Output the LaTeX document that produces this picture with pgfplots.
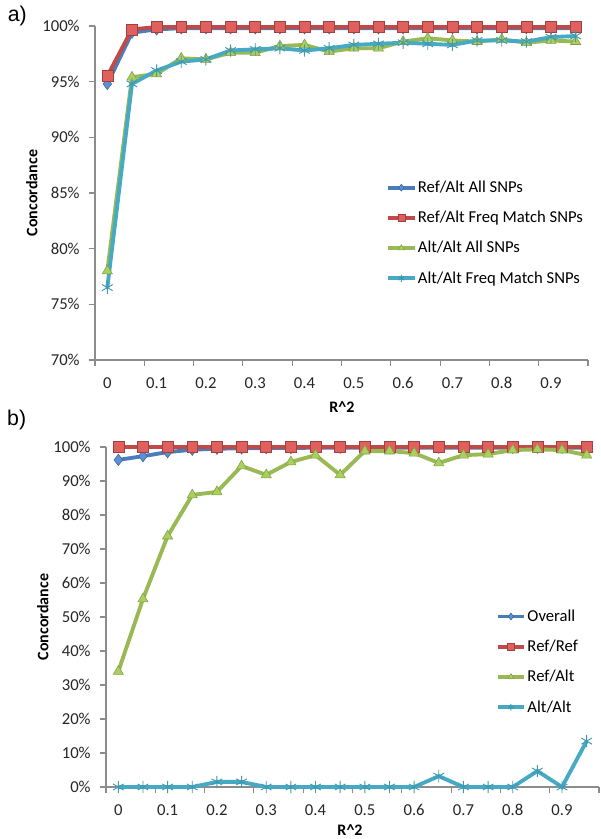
\documentclass[border=0pt]{standalone}
\usepackage{fontspec}
\setmainfont{Carlito}
\newfontfamily\labfont{Liberation Sans}
\usepackage{pgfplots}
\usepackage{pgfplotstable}
\pgfplotsset{compat=1.18}

\definecolor{cBlue}{HTML}{4A7EBB}
\definecolor{cBlueF}{HTML}{5B8FD6}
\definecolor{cRed}{HTML}{BE4B48}
\definecolor{cRedF}{HTML}{E0605D}
\definecolor{cGreen}{HTML}{98B954}
\definecolor{cGreenF}{HTML}{A9D05C}
\definecolor{cCyan}{HTML}{46AAC5}
\definecolor{axgray}{HTML}{8C8C8C}

% panel a: R^2 bins, four series
\pgfplotstableread{
x     refall  reffm  altall  altfm
0     94.8    95.5   78.0    76.5
0.05  99.4    99.7   95.4    94.8
0.10  99.7    99.9   95.7    96.0
0.15  99.8    99.9   97.1    96.8
0.20  99.8    99.9   97.0    97.0
0.25  99.8    99.9   97.6    97.8
0.30  99.8    99.9   97.6    97.9
0.35  99.8    99.9   98.2    98.0
0.40  99.8    99.9   98.3    97.8
0.45  99.8    99.9   97.7    98.0
0.50  99.8    99.9   98.0    98.3
0.55  99.8    99.9   98.0    98.4
0.60  99.8    99.9   98.6    98.5
0.65  99.8    99.9   98.9    98.4
0.70  99.8    99.9   98.7    98.3
0.75  99.8    99.9   98.6    98.7
0.80  99.8    99.9   98.8    98.7
0.85  99.8    99.9   98.5    98.6
0.90  99.8    99.9   98.7    99.0
0.95  99.8    99.9   98.6    99.1
}\tabA

% panel b
\pgfplotstableread{
x     overall  refref  refalt  altalt
0     96.2     100     34.0    0
0.05  97.3     100     55.3    0
0.10  98.5     100     73.8    0
0.15  99.2     100     85.9    0
0.20  99.5     100     86.8    1.5
0.25  99.6     100     94.4    1.5
0.30  99.7     100     91.8    0
0.35  99.7     100     95.6    0
0.40  99.8     100     97.6    0
0.45  99.8     100     91.8    0
0.50  99.8     100     98.8    0
0.55  99.8     100     98.8    0
0.60  99.8     100     98.2    0
0.65  99.8     100     95.3    3.2
0.70  99.8     100     97.6    0
0.75  99.8     100     97.9    0
0.80  99.8     100     99.1    0
0.85  99.8     100     99.3    4.7
0.90  99.8     100     99.1    0
0.95  99.8     100     97.6    13.5
}\tabB

\pgfplotsset{
  xlchart/.style={
    scale only axis, clip=false,
    anchor=south west,
    xmin=-0.025, xmax=0.975,
    axis x line*=bottom, axis y line*=left,
    axis line style={draw=axgray, line width=0.8pt, -},
    xtick={0,0.1,0.2,0.3,0.4,0.5,0.6,0.7,0.8,0.9},
    xticklabels={0,0.1,0.2,0.3,0.4,0.5,0.6,0.7,0.8,0.9},
    major x tick style={draw=none},
    minor xtick={-0.025,0.075,0.175,0.275,0.375,0.475,0.575,0.675,0.775,0.875,0.975},
    minor tick length=4.5pt, major tick length=4.5pt,
    tick align=outside,
    tick style={draw=axgray, line width=0.8pt},
    /pgf/number format/assume math mode=true,
    tick label style={font=\fontsize{12.5}{14}\selectfont, text=black!85},
    xticklabel style={yshift=-5pt},
    yticklabel style={xshift=-3.5pt},
    label style={font=\fontsize{12}{14}\selectfont\bfseries},
    xlabel={R\textasciicircum 2},
    ylabel={Concordance},
    legend cell align=left,
    legend style={draw=none, fill=none, font=\fontsize{12.5}{14}\selectfont,
      row sep=8.5pt, inner sep=0pt, nodes={inner xsep=1pt}},
    legend image code/.code={
      \draw[mark repeat=2,mark phase=2,#1,mark size=2.6pt]
        plot coordinates {(0cm,0cm) (0.35cm,0cm) (0.7cm,0cm)};},
  },
  sblue/.style={cBlue, line width=2.9pt, mark=diamond*, mark size=4.3pt,
    mark options={fill=cBlueF, draw=cBlue!80!black, line width=0.4pt}},
  sred/.style={cRed, line width=2.9pt, mark=square*, mark size=4.1pt,
    mark options={fill=cRedF, draw=cRed!85!black, line width=0.4pt}},
  sgreen/.style={cGreen, line width=2.9pt, mark=triangle*, mark size=4.4pt,
    mark options={fill=cGreenF, draw=cGreen!85!black, line width=0.4pt}},
  scyan/.style={cCyan, line width=2.9pt, mark=asterisk, mark size=4.6pt,
    mark options={draw=cCyan!90!black, line width=0.7pt}},
}

\begin{document}
\begin{tikzpicture}
\useasboundingbox (0,0) rectangle (450pt,629.25pt);

\node[font=\labfont\fontsize{16}{18}\selectfont, anchor=center] at (13pt,617pt) {a)};
\node[font=\labfont\fontsize{16}{18}\selectfont, anchor=center] at (12.5pt,314pt) {b)};

% panel a
\begin{axis}[xlchart,
  at={(71.25pt,359.25pt)}, width=369.75pt, height=250.5pt,
  ymin=70, ymax=100,
  ytick={70,75,80,85,90,95,100},
  yticklabels={70\%,75\%,80\%,85\%,90\%,95\%,100\%},
  xlabel style={at={(axis description cs:0.501,-0.141)}, anchor=center},
  ylabel style={at={(axis description cs:-0.128,0.5)}, anchor=center, rotate=0},
  legend style={at={(axis description cs:0.59,0.545)}, anchor=north west},
]
\addplot[sblue]  table[x=x, y=refall] {\tabA};
\addplot[sred]   table[x=x, y=reffm]  {\tabA};
\addplot[sgreen] table[x=x, y=altall] {\tabA};
\addplot[scyan]  table[x=x, y=altfm]  {\tabA};
\legend{Ref/Alt All SNPs, Ref/Alt Freq Match SNPs, Alt/Alt All SNPs, Alt/Alt Freq Match SNPs}
\end{axis}

% panel b
\begin{axis}[xlchart,
  at={(79.5pt,39pt)}, width=369.75pt, height=255pt,
  ymin=0, ymax=100,
  ytick={0,10,20,30,40,50,60,70,80,90,100},
  yticklabels={0\%,10\%,20\%,30\%,40\%,50\%,60\%,70\%,80\%,90\%,100\%},
  xlabel style={at={(axis description cs:0.495,-0.128)}, anchor=center},
  ylabel style={at={(axis description cs:-0.128,0.5)}, anchor=center, rotate=0},
  legend style={at={(axis description cs:0.79,0.53)}, anchor=north west},
]
\addplot[sblue]  table[x=x, y=overall] {\tabB};
\addplot[sred]   table[x=x, y=refref]  {\tabB};
\addplot[sgreen] table[x=x, y=refalt]  {\tabB};
\addplot[scyan]  table[x=x, y=altalt]  {\tabB};
\legend{Overall, Ref/Ref, Ref/Alt, Alt/Alt}
\end{axis}
\end{tikzpicture}
\end{document}
